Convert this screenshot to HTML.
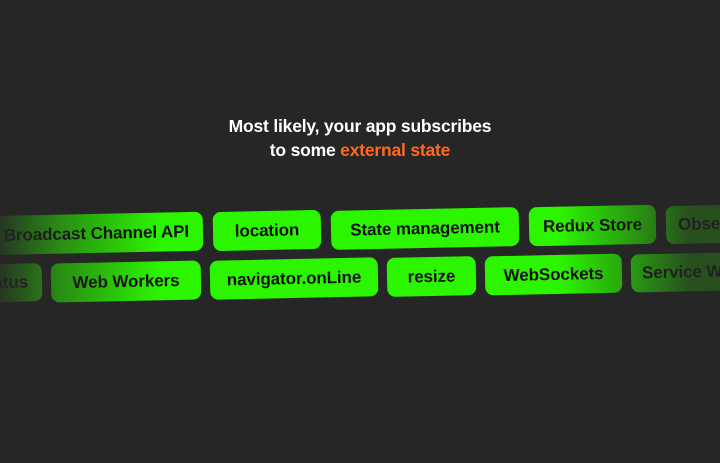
<!DOCTYPE html>
<html><head><style>
body{margin:0;width:720px;height:463px;background:#262626;overflow:hidden;position:relative;font-family:"Liberation Sans",Arial,sans-serif}
.t{position:absolute;left:0;width:720px;text-align:center;color:#fff;font-weight:bold;font-size:17.5px;line-height:24px;top:114px;letter-spacing:-0.2px}
.t span{color:#ff6a1f}
.p{position:absolute;background:#2cf500;border-radius:8px;color:#111;font-weight:bold;font-size:17px;letter-spacing:-0.1px;display:flex;align-items:center;justify-content:center;white-space:nowrap;overflow:hidden;transform:rotate(-1.2deg)}
.fl{position:absolute;left:0;top:190px;width:720px;height:130px;background:linear-gradient(90deg,rgba(38,38,38,.92) 0px,rgba(38,38,38,.5) 60px,rgba(38,38,38,0) 160px,rgba(38,38,38,0) 560px,rgba(38,38,38,.8) 690px)}
</style></head><body>
<div class="t">Most likely, your app subscribes<br>to some <span>external state</span></div>
<div class="p" style="left:-20px;top:214px;width:223px;height:39px;justify-content:flex-end;padding-right:14px;box-sizing:border-box">Broadcast Channel API</div>
<div class="p" style="left:213px;top:211px;width:108px;height:39px">location</div>
<div class="p" style="left:331px;top:209px;width:188px;height:39px">State management</div>
<div class="p" style="left:529px;top:206px;width:127px;height:39px">Redux Store</div>
<div class="p" style="left:666px;top:205px;width:110px;height:38px;justify-content:flex-start;padding-left:12px;box-sizing:border-box">Observable</div>
<div class="p" style="left:-40px;top:264px;width:82px;height:38px;justify-content:flex-end;padding-right:14px;box-sizing:border-box">Status</div>
<div class="p" style="left:51px;top:262px;width:150px;height:39px">Web Workers</div>
<div class="p" style="left:210px;top:259px;width:168px;height:39px">navigator.onLine</div>
<div class="p" style="left:387px;top:257px;width:89px;height:39px">resize</div>
<div class="p" style="left:485px;top:255px;width:137px;height:39px">WebSockets</div>
<div class="p" style="left:631px;top:253px;width:150px;height:38px;justify-content:flex-start;padding-left:11px;box-sizing:border-box">Service Workers</div>
<div class="fl"></div>
</body></html>
